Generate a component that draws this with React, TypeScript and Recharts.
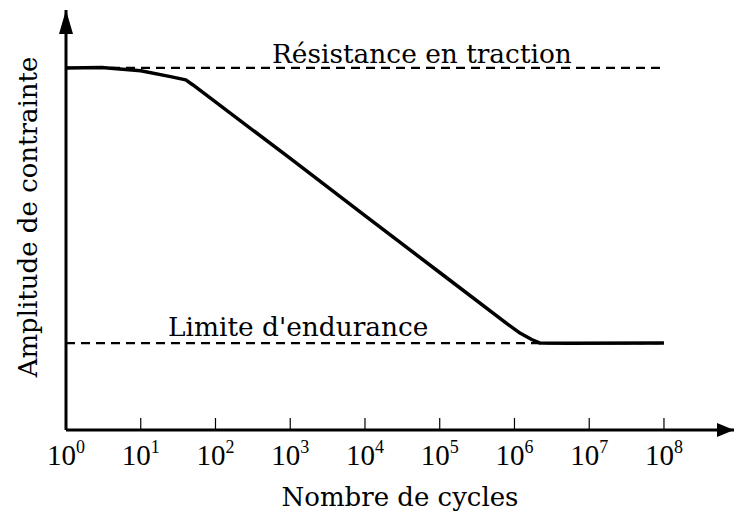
import React from 'react';
import { LineChart, Line, XAxis, YAxis, ReferenceLine, ReferenceDot } from 'recharts';

// nombre de cycles (échelle log) et amplitude de contrainte (unités arbitraires)
const cycles = [1, 3, 10, 25, 40, 50, 1e3, 1e4, 1e5, 8e5, 1.2e6, 1.7e6, 2.2e6, 5e6, 1e8];
const amplitude = [100, 100.1, 99.2, 97.6, 96.7, 95.3, 75.0, 59.2, 43.5, 29.3, 26.7, 25.0, 24.0, 23.95, 24.0];
const tickValues = [1, 10, 100, 1e3, 1e4, 1e5, 1e6, 1e7, 1e8];

const resistance = 100;
const endurance = 24;
const yMax = 116;
const xMax = 10 ** 8.937;

const data = cycles.map((n, i) => ({ n, s: amplitude[i] }));

const FONT = '"DejaVu Serif", serif';

const CycleTick = (props: any) => {
  const { x, y, payload } = props;
  const exp = Math.round(Math.log10(payload.value));
  return (
    <g>
      <line x1={x} y1={y} x2={x} y2={y - 12} stroke="#000" strokeWidth={1.2} />
      <text x={x} y={y + 35} textAnchor="middle" fill="#000" fontFamily='"Liberation Serif", serif'>
        <tspan fontSize={29}>10</tspan>
        <tspan fontSize={18} dy={-12}>{exp}</tspan>
      </text>
    </g>
  );
};

export default function App() {
  return (
    <div style={{ position: 'absolute', left: 0, top: 0, background: '#fff' }}>
      <LineChart
        width={734}
        height={514}
        data={data}
        margin={{ top: 10, right: 0, bottom: 0, left: 0 }}
        style={{ fontFamily: FONT }}
      >
        <XAxis
          dataKey="n"
          type="number"
          scale="log"
          domain={[1, xMax]}
          ticks={tickValues}
          interval={0}
          height={84}
          tickSize={0}
          tickMargin={0}
          tick={<CycleTick />}
          axisLine={{ stroke: '#000', strokeWidth: 3 }}
          label={(p: any) => {
            const vb = p.viewBox;
            return (
              <text x={vb.x + vb.width / 2} y={vb.y + 76} textAnchor="middle" fontSize={26} fontFamily={FONT} fill="#000">
                Nombre de cycles
              </text>
            );
          }}
        />
        <YAxis
          type="number"
          domain={[0, yMax]}
          width={66}
          tick={false}
          tickLine={false}
          axisLine={{ stroke: '#000', strokeWidth: 3 }}
          label={(p: any) => {
            const vb = p.viewBox;
            const cx = vb.x + 37;
            const cy = vb.y + vb.height / 2 - 3;
            return (
              <text x={cx} y={cy} transform={`rotate(-90, ${cx}, ${cy})`} textAnchor="middle" fontSize={26} fontFamily={FONT} fill="#000">
                Amplitude de contrainte
              </text>
            );
          }}
        />
        <ReferenceLine
          segment={[{ x: 1, y: resistance }, { x: 1e8, y: resistance }]}
          stroke="#000"
          strokeWidth={2.2}
          strokeDasharray="9 6"
          label={(p: any) => (
            <text x={p.viewBox.x + 206} y={p.viewBox.y - 5} fontSize={26.4} fontFamily={FONT} fill="#000">
              Résistance en traction
            </text>
          )}
        />
        <ReferenceLine
          segment={[{ x: 1, y: endurance }, { x: 1e8, y: endurance }]}
          stroke="#000"
          strokeWidth={2.2}
          strokeDasharray="9 6"
          label={(p: any) => (
            <text x={p.viewBox.x + 102} y={p.viewBox.y - 7} fontSize={26.4} fontFamily={FONT} fill="#000">
              Limite d'endurance
            </text>
          )}
        />
        <Line
          type="linear"
          dataKey="s"
          stroke="#000"
          strokeWidth={3.5}
          strokeLinejoin="round"
          dot={false}
          isAnimationActive={false}
        />
        <ReferenceDot
          x={1}
          y={yMax}
          shape={(p: any) => (
            <polygon points={`${p.cx},${p.cy} ${p.cx - 7},${p.cy + 24} ${p.cx + 7},${p.cy + 24}`} fill="#000" />
          )}
        />
        <ReferenceDot
          x={xMax}
          y={0}
          shape={(p: any) => (
            <polygon points={`${p.cx},${p.cy} ${p.cx - 17},${p.cy - 7} ${p.cx - 17},${p.cy + 7}`} fill="#000" />
          )}
        />
      </LineChart>
    </div>
  );
}
